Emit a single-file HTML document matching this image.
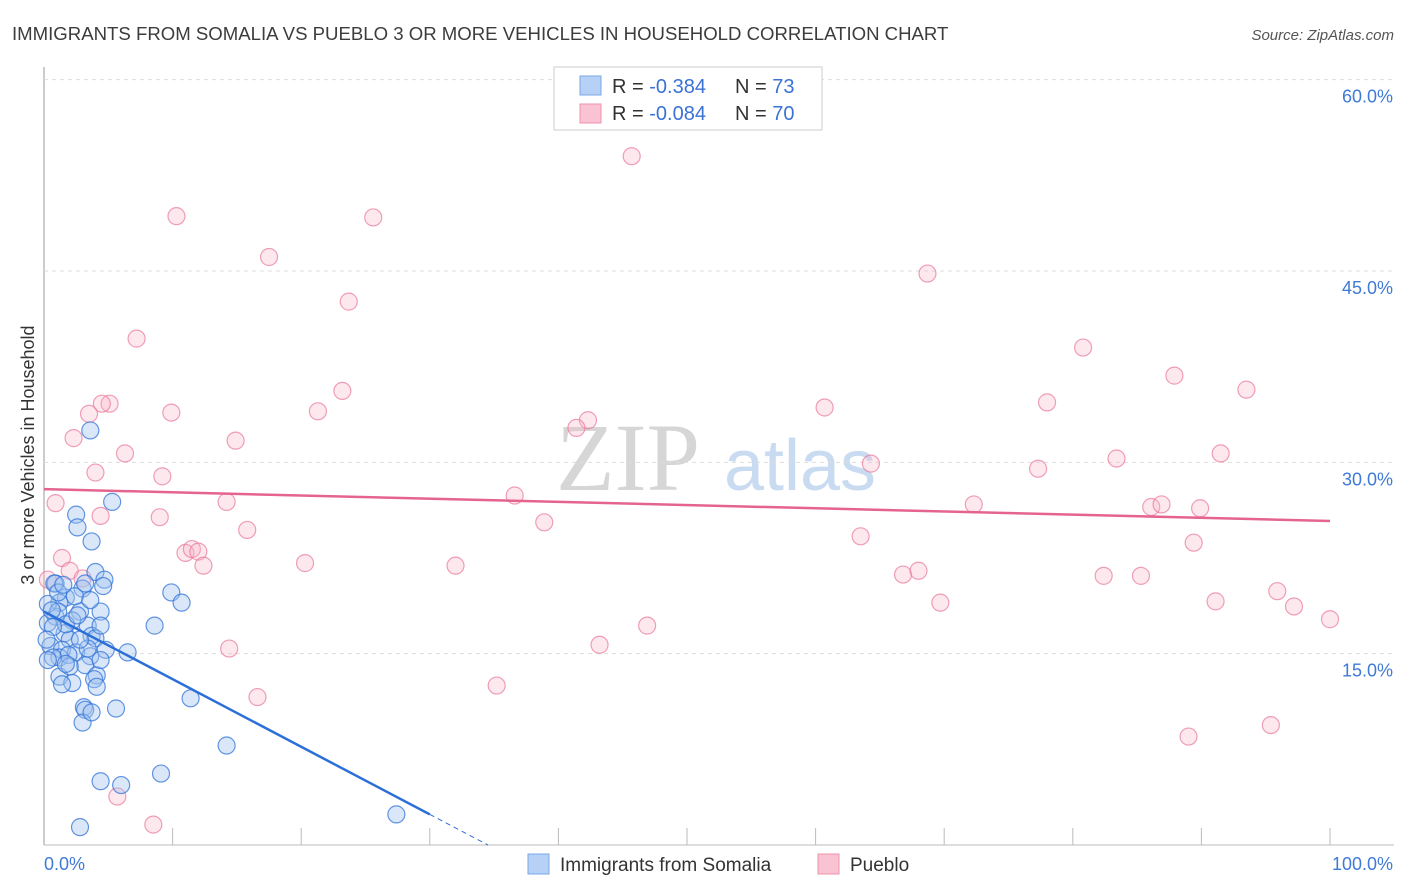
<!DOCTYPE html>
<html><head><meta charset="utf-8"><style>
body{margin:0;background:#fff;font-family:"Liberation Sans",sans-serif}
svg{display:block}
</style></head><body>
<svg id="chart" width="1406" height="892">
<text x="12" y="40" font-size="18.6" fill="#3c3c3c">IMMIGRANTS FROM SOMALIA VS PUEBLO 3 OR MORE VEHICLES IN HOUSEHOLD CORRELATION CHART</text>
<text x="1394" y="40" font-size="15" fill="#555" font-style="italic" text-anchor="end">Source: ZipAtlas.com</text>
<g>
<text x="628" y="490" font-size="96" font-family="Liberation Serif,serif" fill="#d6d6d6" text-anchor="middle">ZIP</text>
<text x="800" y="490" font-size="72" fill="#c9dbf0" text-anchor="middle">atlas</text>
</g>
<g id="grid"></g>
<g id="marks"></g>
<g>
<rect x="554" y="67" width="268" height="63" fill="#fff" stroke="#ccc"/>
<rect x="580" y="76" width="21" height="19" fill="#b6d1f5" stroke="#7aa8e6"/>
<rect x="580" y="104" width="21" height="19" fill="#fac3d3" stroke="#ee93ae"/>
<text x="612" y="93" font-size="20" fill="#333">R = <tspan fill="#3a72d6">-0.384</tspan></text>
<text x="735" y="93" font-size="20" fill="#333">N = <tspan fill="#3a72d6">73</tspan></text>
<text x="612" y="120" font-size="20" fill="#333">R = <tspan fill="#3a72d6">-0.084</tspan></text>
<text x="735" y="120" font-size="20" fill="#333">N = <tspan fill="#3a72d6">70</tspan></text>
</g>
<g>
<rect x="528" y="854" width="21" height="20" fill="#b6d1f5" stroke="#7aa8e6"/>
<text x="560" y="871" font-size="19" fill="#333">Immigrants from Somalia</text>
<rect x="818" y="854" width="21" height="20" fill="#fac3d3" stroke="#ee93ae"/>
<text x="850" y="871" font-size="19" fill="#333">Pueblo</text>
</g>
<text transform="translate(34,455) rotate(-90)" font-size="18" fill="#333" text-anchor="middle">3 or more Vehicles in Household</text>
</svg>
<script>
const yTicks=[15,30,45,60];
const yTickLabels=["15.0%","30.0%","45.0%","60.0%"];
const xTickLabels=["0.0%","100.0%"];
const somaliaX=[3.6,5.3,2.5,2.6,3.7,0.9,4.0,4.7,4.6,3.0,1.7,1.2,9.9,10.7,8.6,4.4,2.8,2.2,0.9,0.3,3.4,3.7,4.0,1.6,2.0,0.5,1.4,2.5,3.6,4.8,6.5,1.2,1.9,0.7,0.3,3.2,4.1,3.9,1.2,2.2,4.1,1.4,3.1,3.2,3.0,3.7,5.6,11.4,14.2,4.4,6.0,9.1,2.8,27.4,0.8,0.3,1.1,1.7,2.6,0.7,0.2,3.4,2.8,2.0,4.4,1.1,2.4,3.2,4.4,1.7,0.6,3.6,1.5];
const somaliaY=[32.5,26.9,25.9,24.9,23.8,20.5,21.4,20.8,20.3,20.1,19.4,19.0,19.8,19.0,17.2,18.3,18.3,17.6,17.9,17.4,17.2,16.4,16.2,16.6,16.1,15.6,15.3,15.1,14.8,15.3,15.1,14.7,14.9,14.7,14.5,14.1,13.3,13.0,13.2,12.7,12.4,12.6,10.8,10.6,9.6,10.4,10.7,11.5,7.8,5.0,4.7,5.6,1.4,2.4,20.5,18.9,18.3,17.3,18.0,17.1,16.1,15.4,16.1,14.0,14.5,19.8,19.5,20.5,17.2,14.2,18.4,19.2,20.4];
const puebloX=[45.7,10.3,25.6,17.5,68.7,23.7,7.2,80.8,23.2,87.9,93.5,5.1,4.5,78.0,60.7,9.9,21.3,3.5,42.3,41.4,2.3,14.9,6.3,4.0,83.4,91.5,64.3,77.3,9.2,36.6,14.2,0.9,72.3,86.1,86.9,89.9,4.4,9.0,38.9,15.8,63.5,89.4,11.0,11.5,12.0,1.4,12.4,20.3,32.0,2.0,3.0,66.8,68.0,82.4,85.3,95.9,97.2,69.7,91.1,100,46.9,14.4,43.2,16.6,35.2,95.4,89.0,5.7,8.5,0.3];
const puebloY=[54.0,49.3,49.2,46.1,44.8,42.6,39.7,39.0,35.6,36.8,35.7,34.6,34.6,34.7,34.3,33.9,34.0,33.8,33.3,32.7,31.9,31.7,30.7,29.2,30.3,30.7,29.9,29.5,28.9,27.4,26.9,26.8,26.7,26.5,26.7,26.4,25.8,25.7,25.3,24.7,24.2,23.7,22.9,23.2,23.0,22.5,21.9,22.1,21.9,21.5,20.9,21.2,21.5,21.1,21.1,19.9,18.7,19.0,19.1,17.7,17.2,15.4,15.7,11.6,12.5,9.4,8.5,3.8,1.6,20.8];
const somaliaFit=[18.3,-0.53];
const puebloFit=[27.9,-0.025];

const X0=44,X1=1330,Y0=845,PX15=191.33;
const sx=v=>X0+(X1-X0)*v/100;
const sy=v=>Y0-v*PX15/15;
const NS='http://www.w3.org/2000/svg';
function mk(tag,attrs,parent){const e=document.createElementNS(NS,tag);for(const k in attrs)e.setAttribute(k,attrs[k]);parent.appendChild(e);return e;}
const grid=document.getElementById('grid'),marks=document.getElementById('marks');
let ax=mk('line',{x1:X0,y1:67,x2:X0,y2:Y0,stroke:'#bbb','stroke-width':1.5},grid);


let bx=mk('line',{x1:X0,y1:Y0,x2:1394,y2:Y0,stroke:'#bbb','stroke-width':1},grid);


yTicks.forEach((t,i)=>{
  const g=mk('line',{x1:X0,y1:sy(t),x2:1394,y2:sy(t),stroke:'#ddd','stroke-dasharray':'4,4'},grid);
  
  
  const tx=mk('text',{x:1393,y:sy(t)+23,'font-size':18,fill:'#3f7ad6','text-anchor':'end'},grid);
  tx.textContent=yTickLabels[i];
  
  
});
for(let i=1;i<=10;i++){
  const t=mk('line',{x1:sx(i*10),y1:828,x2:sx(i*10),y2:Y0,stroke:'#bbb'},grid);
  
  
}
[[0,'start',44],[100,'end',1393]].forEach((d,i)=>{
  const tx=mk('text',{x:d[2],y:870,'font-size':18,fill:'#3f7ad6','text-anchor':d[1]},grid);
  tx.textContent=xTickLabels[i];
  
  
});
function pts(xs,ys,fill,stroke,name){
  xs.forEach((x,i)=>{
    const c=mk('circle',{cx:sx(x),cy:sy(ys[i]),r:8.5,fill:fill,stroke:stroke,'stroke-width':1.2},marks);
    
    
  });
}
pts(puebloX,puebloY,'rgba(248,180,200,0.3)','rgba(232,120,155,0.7)','pueblo-point');
pts(somaliaX,somaliaY,'rgba(160,195,240,0.4)','rgba(50,115,215,0.75)','somalia-point');
const xEnd=-somaliaFit[0]/somaliaFit[1];
let l1=mk('line',{x1:sx(0),y1:sy(somaliaFit[0]),x2:sx(30),y2:sy(somaliaFit[0]+somaliaFit[1]*30),stroke:'#2c6fd8','stroke-width':2.5},marks);


let l1d=mk('line',{x1:sx(30),y1:sy(somaliaFit[0]+somaliaFit[1]*30),x2:sx(xEnd),y2:sy(0),stroke:'#2c6fd8','stroke-width':1,'stroke-dasharray':'5,4'},marks);


let l2=mk('line',{x1:sx(0),y1:sy(puebloFit[0]),x2:sx(100),y2:sy(puebloFit[0]+puebloFit[1]*100),stroke:'#e5648f','stroke-width':2.5},marks);


</script>
</body></html>
